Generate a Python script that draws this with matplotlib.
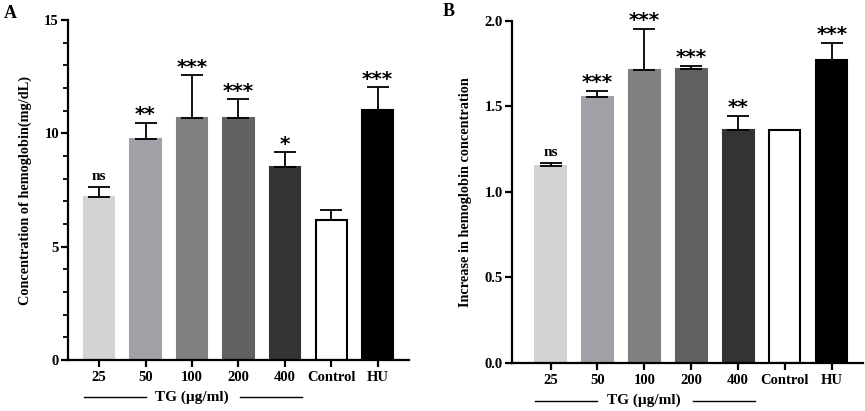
import matplotlib
matplotlib.use("Agg")
import matplotlib.pyplot as plt
from matplotlib.ticker import MultipleLocator, FormatStrFormatter
import matplotlib.transforms as mtransforms

# ── data ────────────────────────────────────────────────────────────────────
groups = ["25", "50", "100", "200", "400", "Control", "HU"]
colors = ["#d3d3d3", "#a0a0a6", "#808080", "#616161", "#333333", "#ffffff", "#000000"]

conc_mean = [7.2, 9.75, 10.7, 10.7, 8.5, 6.2, 11.05]
conc_err = [0.42, 0.73, 1.87, 0.81, 0.66, 0.44, 0.98]
conc_sig = ["ns", "**", "***", "***", "*", "", "***"]

incr_mean = [1.15, 1.556, 1.71, 1.715, 1.36, 1.36, 1.768]
incr_err = [0.015, 0.035, 0.24, 0.02, 0.082, 0.0, 0.102]
incr_sig = ["ns", "***", "***", "***", "**", "", "***"]

SERIF = "Liberation Serif"


def draw_panel(ax, means, errs, sigs, ylim, major, minor, ylabel, xleft, fmt=None):
    x = list(range(len(groups)))
    for i in x:
        ax.bar(i, means[i], width=0.66, color=colors[i],
               edgecolor="black" if groups[i] == "Control" else colors[i],
               linewidth=1.5, zorder=2)
        if errs[i] > 0:
            ax.errorbar(i, means[i], yerr=[[0], [errs[i]]], fmt="none",
                        ecolor="black", elinewidth=1.3, capsize=8,
                        capthick=1.3, zorder=3)
        if sigs[i]:
            top = means[i] + errs[i]
            if sigs[i] == "ns":
                ax.annotate(sigs[i], (i, top), xytext=(0, 3),
                            textcoords="offset points", ha="center",
                            va="bottom", fontsize=11, fontweight="bold",
                            family=SERIF)
            else:
                ax.annotate(sigs[i], (i, top), xytext=(0, -1),
                            textcoords="offset points", ha="center",
                            va="bottom", fontsize=14.5, fontweight="bold",
                            family="DejaVu Sans")

    ax.set_xlim(xleft, 6.67)
    ax.set_ylim(*ylim)
    ax.yaxis.set_major_locator(MultipleLocator(major))
    if minor:
        ax.yaxis.set_minor_locator(MultipleLocator(minor))
    if fmt:
        ax.yaxis.set_major_formatter(FormatStrFormatter(fmt))
    ax.set_xticks(x)
    ax.set_xticklabels(groups)
    for sp in ["top", "right"]:
        ax.spines[sp].set_visible(False)
    for sp in ["left", "bottom"]:
        ax.spines[sp].set_linewidth(1.6)
    ax.tick_params(axis="both", which="major", width=1.6, length=5,
                   direction="out", labelsize=10.5, pad=1.5)
    ax.tick_params(axis="x", which="major", pad=3)
    ax.tick_params(axis="y", which="minor", width=1.3, length=3.5)
    for lab in ax.get_xticklabels() + ax.get_yticklabels():
        lab.set_fontfamily(SERIF)
        lab.set_fontweight("bold")
    ax.set_ylabel(ylabel, fontsize=10.3, fontweight="bold", family=SERIF,
                  labelpad=9)

    # TG (µg/ml) underline below the treatment groups
    trans = mtransforms.blended_transform_factory(ax.transData, ax.transAxes)
    y_line = -0.11
    ax.plot([-0.33, 1.0], [y_line, y_line], color="black", lw=1.0,
            transform=trans, clip_on=False)
    ax.plot([3.03, 4.36], [y_line, y_line], color="black", lw=1.0,
            transform=trans, clip_on=False)
    ax.text(2.0, y_line, "TG (µg/ml)", transform=trans, ha="center",
            va="center", fontsize=11, fontweight="bold", family=SERIF)


fig = plt.figure(figsize=(8.65, 4.11), dpi=100)
ax_a = fig.add_axes([0.0786, 0.124, 0.394, 0.827])
ax_b = fig.add_axes([0.592, 0.117, 0.406, 0.833])

draw_panel(ax_a, conc_mean, conc_err, conc_sig, (0, 15), 5, 1,
           "Concentration of hemoglobin(mg/dL)", -0.67)
draw_panel(ax_b, incr_mean, incr_err, incr_sig, (0, 2.0), 0.5, None,
           "Increase in hemoglobin concentration", -0.82, fmt="%.1f")

fig.text(0.004, 0.988, "A", fontsize=13, fontweight="bold", family=SERIF,
         va="top")
fig.text(0.512, 0.993, "B", fontsize=13, fontweight="bold", family=SERIF,
         va="top")

fig.savefig("out.png", dpi=100)
